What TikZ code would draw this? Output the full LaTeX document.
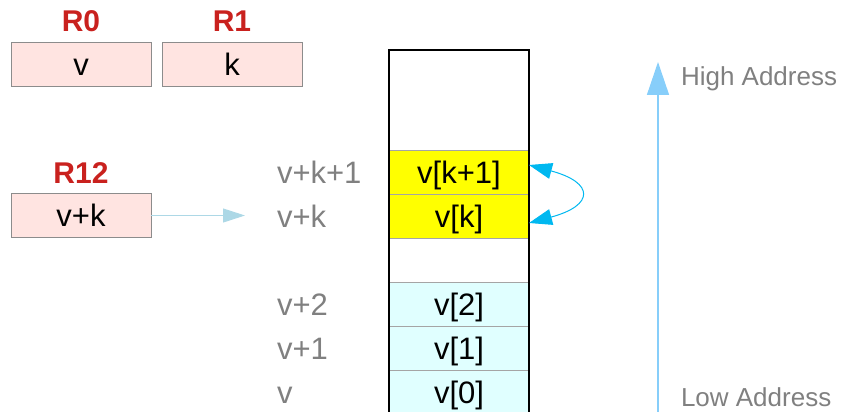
\documentclass[tikz,border=0pt]{standalone}
\usepackage{xcolor}
\usepackage{fontspec}
\setmainfont{Liberation Sans}
\usepackage{tikz}
\usetikzlibrary{positioning, arrows.meta}
\definecolor{regpink}{RGB}{255,228,225}
\definecolor{regred}{RGB}{201,33,30}
\definecolor{boxgray}{RGB}{140,140,140}
\definecolor{cellgray}{RGB}{165,165,165}
\definecolor{addrgray}{RGB}{128,128,128}
\definecolor{memyellow}{RGB}{255,255,0}
\definecolor{memcyan}{RGB}{224,255,255}
\definecolor{ptrblue}{RGB}{173,216,230}
\definecolor{swapblue}{RGB}{0,184,240}
\definecolor{axisblue}{RGB}{135,206,250}

\begin{document}
\begin{tikzpicture}[x=1pt, y=-1pt,
    every node/.style={inner sep=0pt, outer sep=0pt},
    bigtext/.style={font=\fontsize{31}{37}\selectfont, text height=22pt, text depth=0pt},
    regbox/.style={bigtext, draw=boxgray, fill=regpink, minimum width=140pt, minimum height=44pt},
    reglabel/.style={bigtext, text=regred, font=\fontsize{30}{36}\selectfont\bfseries},
    memcell/.style={bigtext, draw=cellgray, fill=white, minimum width=140pt, minimum height=44pt},
    addr/.style={bigtext, text=addrgray, anchor=west},
    addrnote/.style={font=\fontsize{26}{31}\selectfont, text height=18.7pt, text depth=0pt, text=addrgray, anchor=west}]
    \useasboundingbox (0,0) rectangle (841,412);

    % registers
    \node[regbox] (r0) at (81,64) {v};
    \node[regbox, right=11pt of r0] (r1) {k};
    \node[regbox, below=107.5pt of r0] (r12) {v+k};
    \node[reglabel, above=10pt of r0] (r0lbl) {R0};
    \node[reglabel, above=10pt of r1] (r1lbl) {R1};
    \node[reglabel, above=10pt of r12] (r12lbl) {R12};

    % memory cells
    \node[memcell, fill=memyellow] (vk1) at (459,172) {v[k+1]};
    \node[memcell, fill=memyellow, below=0pt of vk1] (vk) {v[k]};
    \node[memcell, below=0pt of vk] (gap) {};
    \node[memcell, fill=memcyan, below=0pt of gap] (v2) {v[2]};
    \node[memcell, fill=memcyan, below=0pt of v2] (v1) {v[1]};
    \node[memcell, fill=memcyan, below=0pt of v1] (v0) {v[0]};
    \coordinate (memtop) at (459,50);
    \draw[line width=2pt] (v0.south west) |- (memtop) -| (v0.south east);

    % addresses
    \coordinate (addrx) at (277,0);
    \node[addr] (avk1) at (vk1 -| addrx) {v+k+1};
    \node[addr] (avk) at (vk -| addrx) {v+k};
    \node[addr] (av2) at (v2 -| addrx) {v+2};
    \node[addr] (av1) at (v1 -| addrx) {v+1};
    \node[addr] (av0) at (v0 -| addrx) {v};

    % pointer and swap
    \coordinate (ptrend) at (245,215.5);
    \draw[ptrblue, line width=1pt, -{Triangle[length=22pt,width=14pt]}] (r12) -- (ptrend);
    \draw[swapblue, line width=1pt, {Triangle[length=23pt,width=16pt]}-{Triangle[length=23pt,width=16pt]}]
        ([yshift=-7pt]vk.east) to[out=15, in=-15, looseness=3] ([yshift=7pt]vk1.east);

    % address direction
    \coordinate (lowend) at (658,412);
    \coordinate (highend) at (658,62);
    \draw[axisblue, line width=1.5pt, -{Triangle[length=33pt,width=22pt]}] (lowend) -- (highend);
    \node[addrnote] (high) at (681,76) {High Address};
    \node[addrnote] (low) at (681,397) {Low Address};
\end{tikzpicture}
\end{document}
